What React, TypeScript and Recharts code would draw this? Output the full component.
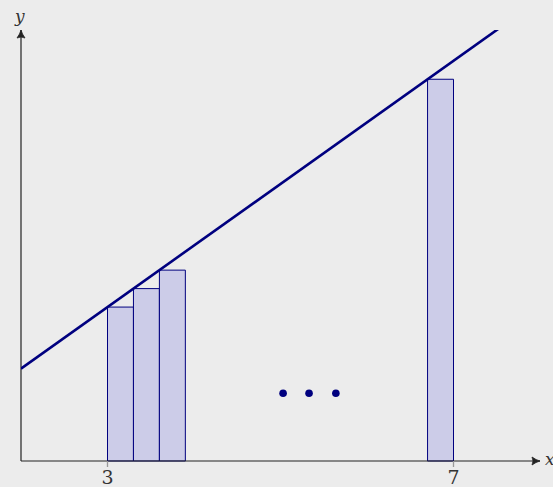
import React from 'react'
import { ComposedChart, XAxis, YAxis, Line, Scatter, ReferenceArea, ReferenceLine } from 'recharts'

// rectangles under the line: left edges, heights, common width
const barLeft = [3, 3.3, 3.6, 6.7]
const barHeight = [2.5, 2.8, 3.1, 6.2]
const barWidth = 0.3

// the straight line (two end points)
const lineX = [2, 7.52]
const lineY = [1.5, 7.02]

// the "..." dots
const dotX = [5.03, 5.33, 5.64]
const dotY = [1.1, 1.1, 1.1]

const xTicks = [3, 7]

const NAVY = '#00007f'
const FILL = '#ccccE8'
const BG = '#ececec'

const lineData = lineX.map((x, i) => ({ x, y: lineY[i] }))
const dotData = dotX.map((x, i) => ({ x, y: dotY[i] }))

const ArrowLine = (dir: 'x' | 'y') => (props: any) => {
  const { x1, y1, x2, y2 } = props
  const tx = x2, ty = y2
  const head = dir === 'x'
    ? `M${tx - 8},${ty - 4} Q${tx - 4},${ty - 1} ${tx},${ty} Q${tx - 4},${ty + 1} ${tx - 8},${ty + 4} Q${tx - 6},${ty} ${tx - 8},${ty - 4}Z`
    : `M${tx - 4},${ty + 8} Q${tx - 1},${ty + 4} ${tx},${ty} Q${tx + 1},${ty + 4} ${tx + 4},${ty + 8} Q${tx},${ty + 6} ${tx - 4},${ty + 8}Z`
  return (
    <g>
      <line x1={x1} y1={y1} x2={x2} y2={y2} stroke="#222" strokeWidth={1.2} />
      <path d={head} fill="#222" stroke="#222" strokeWidth={0.8} strokeLinejoin="round" />
    </g>
  )
}

export default function App() {
  return (
    <div style={{ position: 'absolute', left: 0, top: 0, width: 553, height: 487, background: BG, overflow: 'hidden' }}>
      <ComposedChart width={553} height={487} margin={{ top: 30, right: 13, left: 21, bottom: 0 }}>
        <XAxis type="number" dataKey="x" domain={[2, 8]} ticks={xTicks} interval={0} allowDataOverflow
          axisLine={false} tickLine={{ stroke: '#999', strokeWidth: 1.3 }} tickSize={6} tickMargin={4} height={26}
          tick={{ fontSize: 19, fill: '#333', fontFamily: 'DejaVu Serif' }} />
        <YAxis type="number" dataKey="y" domain={[0, 7]} hide allowDataOverflow />
        {barLeft.map((x, i) => (
          <ReferenceArea key={i} x1={x} x2={x + barWidth} y1={0} y2={barHeight[i]}
            fill={FILL} fillOpacity={1} stroke={NAVY} strokeWidth={1} ifOverflow="visible" />
        ))}
        <ReferenceLine segment={[{ x: 2, y: 0 }, { x: 8, y: 0 }]} shape={ArrowLine('x')} ifOverflow="visible" />
        <ReferenceLine segment={[{ x: 2, y: 0 }, { x: 2, y: 7 }]} shape={ArrowLine('y')} ifOverflow="visible" />
        <Line data={lineData} dataKey="y" type="linear" stroke={NAVY} strokeWidth={2.6} dot={false}
          isAnimationActive={false} />
        <Scatter data={dotData} dataKey="y" fill={NAVY} isAnimationActive={false}
          shape={(p: any) => <circle cx={p.cx} cy={p.cy} r={3.8} fill={NAVY} />} />
      </ComposedChart>
      <div style={{ position: 'absolute', left: 15, top: 6, fontFamily: 'DejaVu Serif', fontStyle: 'italic', fontSize: 17, color: '#333' }}>y</div>
      <div style={{ position: 'absolute', left: 545, top: 449, fontFamily: 'DejaVu Serif', fontStyle: 'italic', fontSize: 17, color: '#333' }}>x</div>
    </div>
  )
}
